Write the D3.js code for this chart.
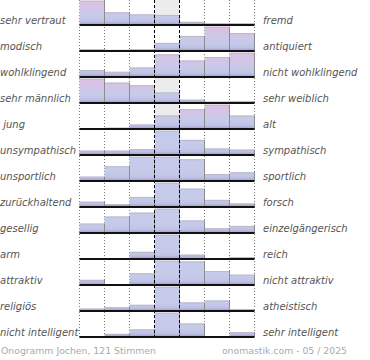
<!DOCTYPE html>
<html>
<head>
<meta charset="utf-8">
<script src="https://cdn.jsdelivr.net/npm/d3@7"></script>
<style>
  html, body { margin: 0; padding: 0; background: #fff; }
  svg { display: block; }
  text { white-space: pre; }
</style>
</head>
<body>
<svg id="chart" width="370" height="360"></svg>
<script>
// ---------- data ----------
const leftLabels = ["sehr vertraut", "modisch", "wohlklingend", "sehr männlich", " jung",
  "unsympathisch", "unsportlich", "zurückhaltend", "gesellig", "arm", "attraktiv",
  "religiös", "nicht intelligent"];
const rightLabels = ["fremd", "antiquiert", "nicht wohlklingend", "sehr weiblich", "alt",
  "sympathisch", "sportlich", "forsch", "einzelgängerisch", "reich", "nicht attraktiv",
  "atheistisch", "sehr intelligent"];
// votes per scale step (7 steps) for each row
const votes1  = [46, 24, 20, 19, 6, 3, 3];
const votes2  = [3, 2, 3, 14, 26, 42, 31];
const votes3  = [8, 6, 11, 26, 19, 23, 28];
const votes4  = [37, 31, 27, 16, 5, 2, 3];
const votes5  = [1, 2, 7, 21, 31, 38, 21];
const votes6  = [8, 8, 11, 45, 28, 12, 10];
const votes7  = [5, 17, 28, 28, 25, 8, 10];
const votes8  = [9, 5, 17, 41, 31, 12, 6];
const votes9  = [12, 21, 26, 31, 16, 6, 9];
const votes10 = [0, 0, 23, 78, 14, 0, 6];
const votes11 = [7, 0, 16, 33, 32, 19, 14];
const votes12 = [5, 8, 13, 51, 18, 22, 4];
const votes13 = [1, 7, 17, 54, 30, 1, 11];
const allVotes = [votes1, votes2, votes3, votes4, votes5, votes6, votes7, votes8,
  votes9, votes10, votes11, votes12, votes13];
// warm (pink) tint of the row's bars, 0..1
const rowTint = [1, 1, 1, 1, 1, 0, 0, 0, 0, 0, 0, 0, 0];
// rows where the neutral middle step is shaded
const neutralShaded = [true, false, false, true, true, false, false, false, false, false, false, false, false];
const footerLeft = "Onogramm Jochen, 121 Stimmen";
const footerRight = "onomastik.com - 05 / 2025";
const steps = [0, 1, 2, 3, 4, 5, 6];

// ---------- layout ----------
const svg = d3.select("#chart");
const x = d3.scaleLinear().domain([0, 7]).range([79.5, 254.5]);
const rowBand = d3.scaleBand().domain(d3.range(leftLabels.length)).range([-1, 337]);
const barMax = 24.3;
const baseline = i => rowBand(i) + rowBand.bandwidth();

const defs = svg.append("defs");
const pink = d3.color("#dcc1e1"), blue = d3.color("#c6cbeb");
allVotes.forEach((v, i) => {
  const g = defs.append("linearGradient")
    .attr("id", "grad" + i)
    .attr("gradientUnits", "userSpaceOnUse")
    .attr("x1", 0).attr("x2", 0)
    .attr("y1", baseline(i) - barMax).attr("y2", baseline(i));
  const top = d3.interpolateRgb(blue, pink)(rowTint[i]);
  const mid = d3.interpolateRgb(blue, "#d0c6e8")(rowTint[i]);
  [[0, top], [0.4, mid], [0.62, "#c6cbea"], [0.84, "#c0c5e7"], [0.93, "#b2aedb"], [1, "#9f8fc4"]]
    .forEach(([o, c]) => g.append("stop").attr("offset", o).attr("stop-color", c));
});

// shaded neutral cells
const gShade = svg.append("g");
neutralShaded.forEach((s, i) => {
  if (!s) return;
  gShade.append("rect")
    .attr("x", x(3)).attr("width", x(4) - x(3))
    .attr("y", baseline(i) - barMax - 1).attr("height", barMax + 1)
    .attr("fill", "#ececec");
});

// dotted grid lines
const yTop = 0, yBottom = 338;
svg.append("g").selectAll("line")
  .data([0, 1, 2, 5, 6, 7])
  .join("line")
  .attr("x1", d => x(d)).attr("x2", d => x(d))
  .attr("y1", yTop).attr("y2", yBottom)
  .attr("stroke", "#777").attr("stroke-width", 1)
  .attr("stroke-dasharray", "1,2");

// bars
const gBars = svg.append("g");
allVotes.forEach((v, i) => {
  const y = d3.scaleLinear().domain([0, d3.max(v)]).range([baseline(i), baseline(i) - barMax]);
  const row = gBars.append("g");
  row.selectAll("rect")
    .data(steps.filter(s => v[s] > 0))
    .join("rect")
    .attr("x", s => x(s)).attr("width", s => x(s + 1) - x(s))
    .attr("y", s => y(v[s])).attr("height", s => baseline(i) - y(v[s]))
    .attr("fill", "url(#grad" + i + ")");
  // top edge
  row.selectAll("line.top")
    .data(steps.filter(s => v[s] > 0))
    .join("line").attr("class", "top")
    .attr("x1", s => x(s)).attr("x2", s => x(s + 1))
    .attr("y1", s => y(v[s]) + 0.5).attr("y2", s => y(v[s]) + 0.5)
    .attr("stroke", "#b9b9c9").attr("stroke-width", 1);
  // right edge
  row.selectAll("line.right")
    .data(steps.filter(s => v[s] > 0))
    .join("line").attr("class", "right")
    .attr("x1", s => x(s + 1)).attr("x2", s => x(s + 1))
    .attr("y1", s => y(v[s])).attr("y2", baseline(i))
    .attr("stroke", "#8c8c8c").attr("stroke-width", 1);
});

// dashed neutral lines
svg.append("g").selectAll("line")
  .data([3, 4])
  .join("line")
  .attr("x1", d => x(d)).attr("x2", d => x(d))
  .attr("y1", yTop).attr("y2", yBottom)
  .attr("stroke", "#000").attr("stroke-width", 1)
  .attr("stroke-dasharray", "3,2");

// baselines
svg.append("g").selectAll("line")
  .data(d3.range(leftLabels.length))
  .join("line")
  .attr("x1", x(0)).attr("x2", x(7))
  .attr("y1", i => baseline(i)).attr("y2", i => baseline(i))
  .attr("stroke", "#111").attr("stroke-width", 2);

// labels
const font = "DejaVu Sans, sans-serif";
svg.append("g").selectAll("text")
  .data(leftLabels)
  .join("text")
  .attr("x", 0).attr("y", (d, i) => baseline(i) - 1.5)
  .attr("font-family", font).attr("font-style", "italic").attr("font-size", 10)
  .attr("fill", "#555")
  .text(d => d);
svg.append("g").selectAll("text")
  .data(rightLabels)
  .join("text")
  .attr("x", 263).attr("y", (d, i) => baseline(i) - 1.5)
  .attr("font-family", font).attr("font-style", "italic").attr("font-size", 10)
  .attr("fill", "#555")
  .text(d => d);

// footer
svg.append("text")
  .attr("x", 1).attr("y", 354)
  .attr("font-family", font).attr("font-size", 9.3).attr("fill", "#aaa")
  .text(footerLeft);
svg.append("text")
  .attr("x", 347).attr("y", 354).attr("text-anchor", "end")
  .attr("font-family", font).attr("font-size", 9.3).attr("fill", "#aaa")
  .text(footerRight);
</script>
</body>
</html>
